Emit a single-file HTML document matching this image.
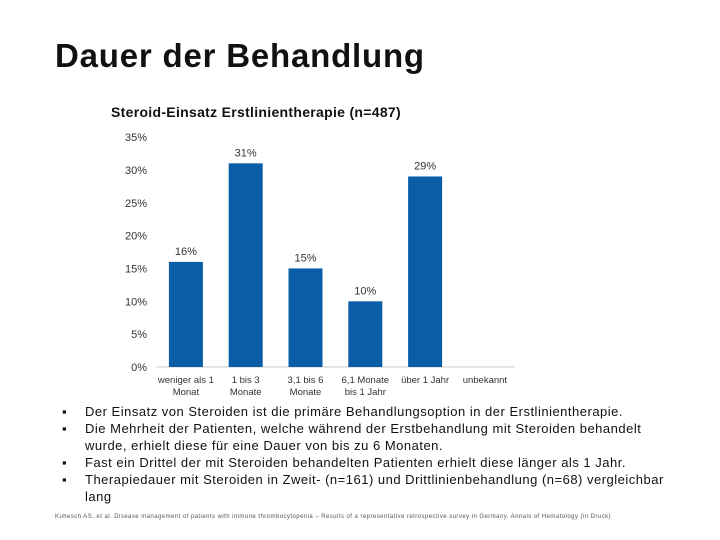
<!DOCTYPE html>
<html><head><meta charset="utf-8"><style>
body{margin:0;width:720px;height:540px;background:#fff;font-family:"Liberation Sans",sans-serif;position:relative;overflow:hidden}
.t{position:absolute;white-space:nowrap}
</style></head><body>
<div class="t" style="left:55px;top:37px;font-size:33px;font-weight:bold;color:#111;letter-spacing:0.8px">Dauer der Behandlung</div>
<svg width="720" height="540" style="position:absolute;left:0;top:0" id="ch">
<text x="256" y="117" text-anchor="middle" font-size="14" font-weight="bold" fill="#111" letter-spacing="0.3">Steroid-Einsatz Erstlinientherapie (n=487)</text>
</svg>
<div style="position:absolute;left:0;top:404px;font-size:13px;line-height:16.8px;color:#111;letter-spacing:0.5px">
<div class="t" style="left:62px;top:0">▪</div><div class="t" style="left:85px;top:0">Der Einsatz von Steroiden ist die primäre Behandlungsoption in der Erstlinientherapie.</div>
<div class="t" style="left:62px;top:17px">▪</div><div class="t" style="left:85px;top:17px">Die Mehrheit der Patienten, welche während der Erstbehandlung mit Steroiden behandelt</div>
<div class="t" style="left:85px;top:34px">wurde, erhielt diese für eine Dauer von bis zu 6 Monaten.</div>
<div class="t" style="left:62px;top:51px">▪</div><div class="t" style="left:85px;top:51px">Fast ein Drittel der mit Steroiden behandelten Patienten erhielt diese länger als 1 Jahr.</div>
<div class="t" style="left:62px;top:68px">▪</div><div class="t" style="left:85px;top:68px">Therapiedauer mit Steroiden in Zweit- (n=161) und Drittlinienbehandlung (n=68) vergleichbar</div>
<div class="t" style="left:85px;top:85px">lang</div>
</div>
<div class="t" style="left:55px;top:514px;font-size:6px;color:#555;letter-spacing:0.45px">Kuhesch AS. et al. Disease management of patients with immune thrombocytopenia – Results of a representative retrospective survey in Germany. Annals of Hematology (in Druck)</div>
<script>
const categories=[["weniger als 1","Monat"],["1 bis 3","Monate"],["3,1 bis 6","Monate"],["6,1 Monate","bis 1 Jahr"],["über 1 Jahr"],["unbekannt"]];
const values=[16,31,15,10,29,null];
const ticks=[0,5,10,15,20,25,30,35];
const svg=document.getElementById('ch');
const NS='http://www.w3.org/2000/svg';
const y0=367,pxPer=6.57,x0=156,step=59.8,bw=34;
const y=v=>y0-v*pxPer;
const xc=i=>x0+step*(i+0.5);
function mk(tag,attrs,txt){const e=document.createElementNS(NS,tag);for(const k in attrs)e.setAttribute(k,attrs[k]);if(txt!=null)e.textContent=txt;svg.appendChild(e);return e;}
ticks.forEach(t=>{const e=mk('text',{x:147,y:y(t)+4,'text-anchor':'end','font-size':11,fill:'#333'},t+'%');

});
const ax=mk('line',{x1:x0,x2:x0+step*6,y1:y0,y2:y0,stroke:'#ccc','stroke-width':1});


values.forEach((v,i)=>{
 if(v!=null){
  const r=mk('rect',{x:xc(i)-bw/2,y:y(v),width:bw,height:v*pxPer,fill:'#0a5ea8'});
  
  
  const l=mk('text',{x:xc(i),y:y(v)-7,'text-anchor':'middle','font-size':11,fill:'#333'},v+'%');
  
  
 }
 categories[i].forEach((s,j)=>{const c=mk('text',{x:xc(i),y:383+j*12,'text-anchor':'middle','font-size':9.5,fill:'#333'},s);
 
 });
});
</script>
</body></html>
